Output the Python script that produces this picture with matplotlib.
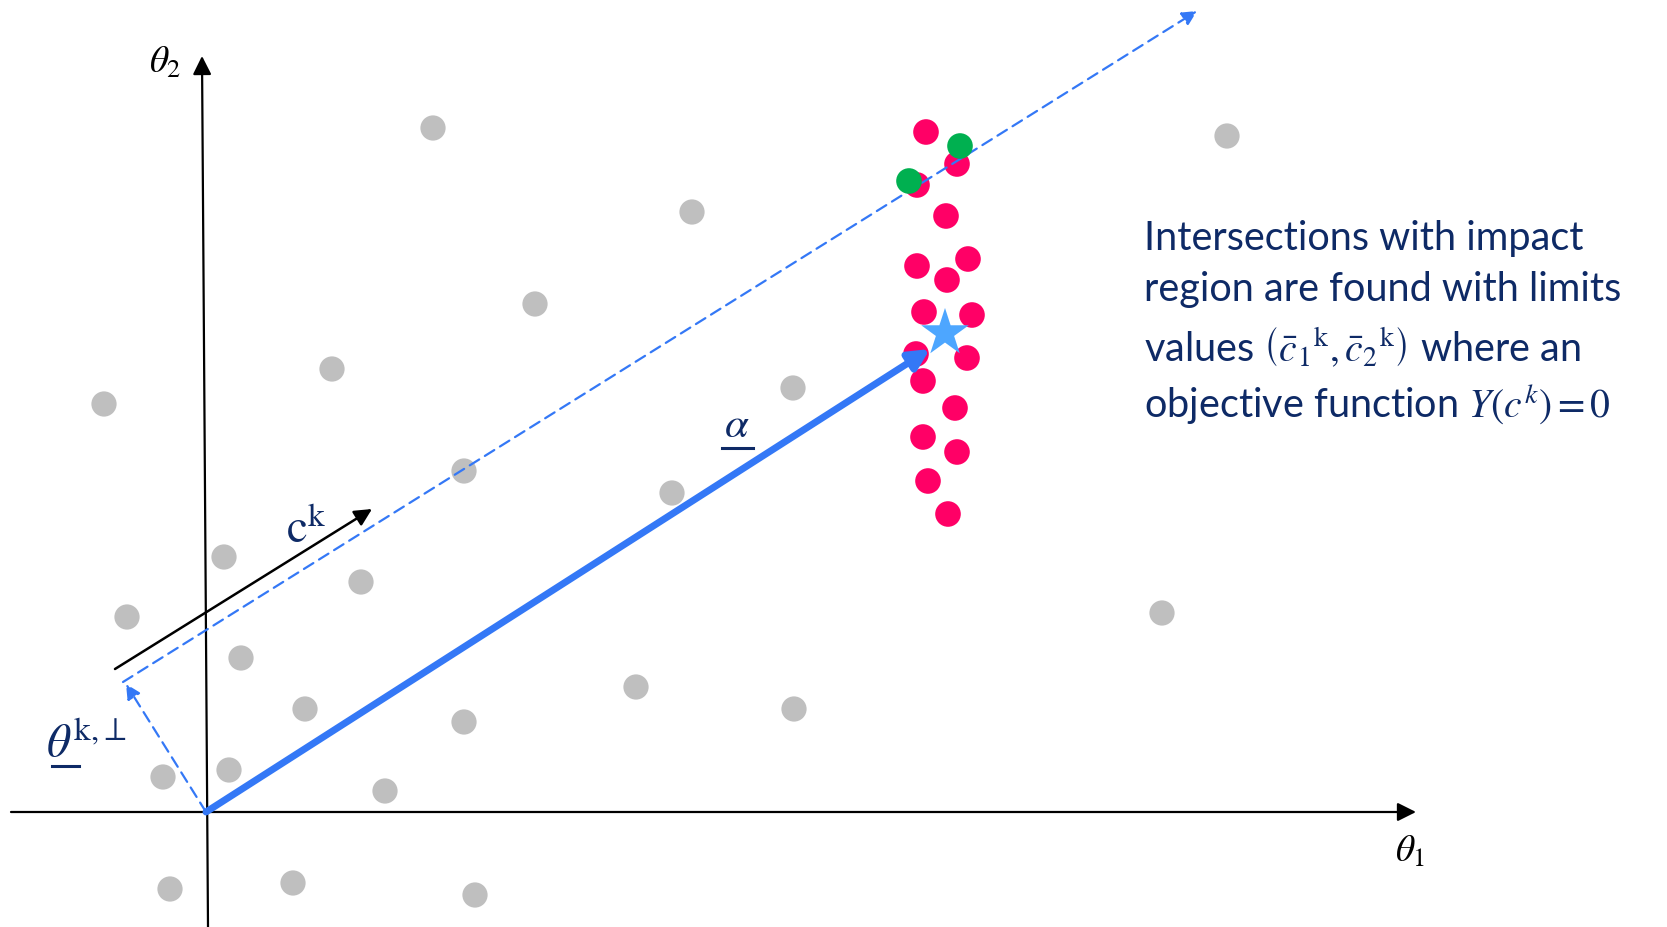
import numpy as np
import matplotlib.pyplot as plt

plt.rcParams['font.family'] = ['Lato', 'DejaVu Sans']
plt.rcParams['mathtext.fontset'] = 'stix'

# sample points (theta_1, theta_2), origin at the axis crossing
gray_x = [227, 1021, 486, 329, 126, -102, 587, 258, 466, 18, 155, -79, 956,
          35, 430, 99, 258, 588, -43, 23, 179, -36, 87, 269]
gray_y = [684, 676, 600, 508, 443, 408, 424, 341, 319, 255, 230, 195, 199,
          154, 125, 103, 90, 103, 35, 42, 21, -77, -71, -83]

red_x = [720, 751, 711, 740, 711, 762, 741, 718, 766, 710, 761, 717, 749, 717, 751, 722, 742]
red_y = [680, 648, 627, 596, 546, 553, 532, 500, 497, 458, 454, 431, 404, 375, 360, 331, 298]

green_x = [754, 703]
green_y = [666, 631]

star_x = [739]
star_y = [479]

# vectors
alpha_end = (724, 463)
theta_perp = (-80, 128)
ray_start = (-83, 130)
ray_end = (991, 801)
ck_start = (-91, 143)
ck_end = (166, 303)

navy = '#0E2A66'
blue = '#3478F6'

fig = plt.figure(figsize=(16.67, 9.27), dpi=100)
ax = fig.add_axes([0, 0, 1, 1])
ax.set_xlim(-206, 1461)
ax.set_ylim(-115, 812)
ax.axis('off')

# axes
ax.annotate('', xy=(1210, 0), xytext=(-195, 0),
            arrowprops=dict(arrowstyle='-|>', color='black', lw=1.6,
                            mutation_scale=28, shrinkA=0, shrinkB=0))
ax.annotate('', xy=(-4, 756), xytext=(2, -115),
            arrowprops=dict(arrowstyle='-|>', color='black', lw=1.6,
                            mutation_scale=28, shrinkA=0, shrinkB=0))
ax.text(-57, 739, r'$\theta_2$', fontsize=27, ha='left', va='baseline')
ax.text(1189, -50, r'$\theta_1$', fontsize=27, ha='left', va='baseline')

# points
ax.scatter(gray_x, gray_y, s=330, color='#BFBFBF', edgecolors='none', zorder=2)
ax.scatter(red_x, red_y, s=340, color='#FF0066', edgecolors='none', zorder=3)

# dashed ray
ax.annotate('', xy=ray_end, xytext=ray_start,
            arrowprops=dict(arrowstyle='-|>', color=blue, lw=1.6, ls=(0, (5, 3)),
                            mutation_scale=22, shrinkA=0, shrinkB=0), zorder=4)
ax.annotate('', xy=theta_perp, xytext=(0, 0),
            arrowprops=dict(arrowstyle='-|>', color=blue, lw=1.6, ls=(0, (5, 3)),
                            mutation_scale=22, shrinkA=0, shrinkB=0), zorder=4)
ax.scatter(green_x, green_y, s=340, color='#00B050', edgecolors='none', zorder=5)

# c^k direction
ax.annotate('', xy=ck_end, xytext=ck_start,
            arrowprops=dict(arrowstyle='-|>', color='black', lw=1.8,
                            mutation_scale=26, shrinkA=0, shrinkB=0), zorder=4)

# alpha vector
ax.annotate('', xy=alpha_end, xytext=(0, 0),
            arrowprops=dict(arrowstyle='-|>', color=blue, lw=5,
                            mutation_scale=30, shrinkA=0, shrinkB=0), zorder=6)
ax.scatter(star_x, star_y, s=1300, marker='*', color='#4DA6FF', edgecolors='none', zorder=7)

# labels
ax.text(80, 269, r'$\mathrm{c}^{\mathrm{k}}$', fontsize=34, color=navy, ha='left', va='baseline')
ax.text(518, 375, r'$\alpha$', fontsize=31, color=navy, ha='left', va='baseline')
ax.plot([516, 547], [364, 364], color=navy, lw=2.2)
ax.text(-160, 55, r'$\theta^{\mathrm{k}{,}\perp}$', fontsize=34, color=navy, ha='left', va='baseline')
ax.plot([-154, -127], [46, 46], color=navy, lw=2.2)

lines = [
    'Intersections with impact',
    'region are found with limits',
    r'values $\left(\bar{c}_1{}^{\mathrm{k}},\bar{c}_2{}^{\mathrm{k}}\right)$ where an',
    r'objective function $Y\left(c^{k}\right) = 0$',
]
line_y = [574, 523, 465, 408]
for s, y in zip(lines, line_y):
    ax.text(938, y, s, fontsize=28.5, color=navy, ha='left', va='center')

fig.savefig('out.png', dpi=100)
